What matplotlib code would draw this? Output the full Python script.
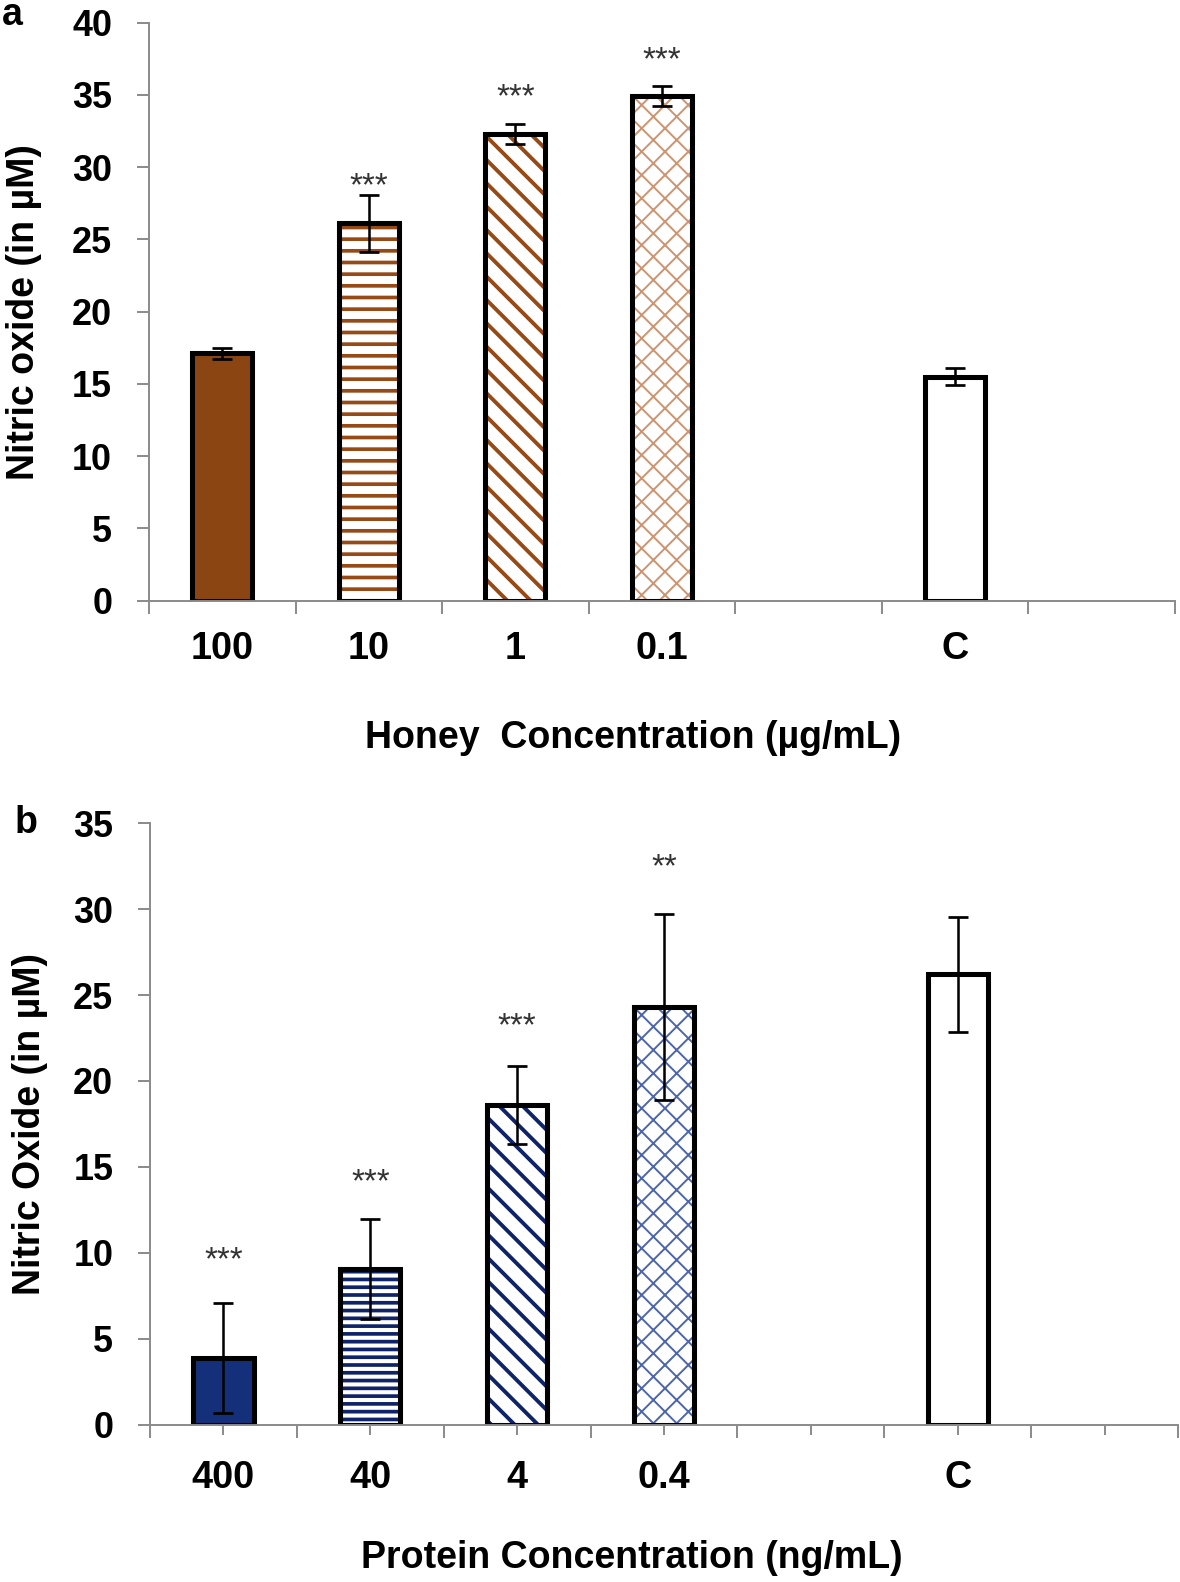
import matplotlib.pyplot as plt
from matplotlib.ticker import NullFormatter

# panel a - honey
honey_ticks = ['100', '10', '1', '0.1', '', 'C', '']
honey_mean = [17.1, 26.1, 32.3, 34.9, None, 15.5, None]
honey_err = [0.35, 2.0, 0.7, 0.7, None, 0.6, None]
honey_sig = ['', '***', '***', '***', '', '', '']
honey_sig_y = [None, 29.2, 35.3, 37.9, None, None, None]

# panel b - protein
protein_ticks = ['400', '40', '4', '0.4', '', 'C', '']
protein_mean = [3.9, 9.05, 18.6, 24.3, None, 26.2, None]
protein_err = [3.2, 2.9, 2.25, 5.4, None, 3.35, None]
protein_sig = ['***', '***', '***', '**', '', '', '']
protein_sig_y = [10.0, 14.5, 23.6, 32.85, None, None, None]

DPI = 140
W, H = 1180, 1582
GRAY = '#8a8a8a'

plt.rcParams['font.family'] = ['Liberation Sans', 'DejaVu Sans']
plt.rcParams['font.weight'] = 'bold'

fig = plt.figure(figsize=(W / DPI, H / DPI), dpi=DPI)


def draw_panel(rect, ticks, means, errs, sig, sig_y, ymax, colors, xlabel, ylabel,
               minor_len, lab_pad, xlab_xy, ylab_x, stripes):
    solid, stripe, cross = colors
    ax = fig.add_axes(rect)
    n = len(ticks)
    idx = [i for i, m in enumerate(means) if m is not None]
    # (face, hatch, hatch colour, hatch lw) for the 5 bars in order
    styles = [(solid, None, solid, 0),
              ('white', stripes, stripe, 1.9),
              ('white', '\\\\', stripe, 2.0),
              ('white', 'xx', cross, 1.0),
              ('white', None, 'white', 0)]
    for k, i in enumerate(idx):
        face, hatch, hc, hlw = styles[k]
        b = ax.bar(i + 0.5, means[i], width=0.41, color=face, edgecolor=hc,
                   linewidth=0, hatch=hatch, zorder=2)
        if hatch:
            b[0].set_hatch_linewidth(hlw)
        ax.bar(i + 0.5, means[i], width=0.41, fill=False, edgecolor='black',
               linewidth=2.6, zorder=3)
    ax.errorbar([i + 0.5 for i in idx], [means[i] for i in idx],
                yerr=[errs[i] for i in idx], fmt='none', ecolor='black',
                elinewidth=1.3, capsize=5, capthick=1.4, zorder=4)
    for i, s in enumerate(sig):
        if s:
            ax.annotate(s, (i + 0.5, sig_y[i]), xytext=(0, -8.3),
                        textcoords='offset points', ha='center', va='baseline',
                        fontsize=17, color='#333333', fontweight='normal')

    ax.set_xlim(0, n)
    ax.set_ylim(0, ymax)
    ax.set_xticks(range(n + 1))
    ax.xaxis.set_major_formatter(NullFormatter())
    ax.set_xticks([i + 0.5 for i in range(n)], labels=ticks, minor=True)
    ax.set_yticks(range(0, ymax + 1, 5))
    ax.tick_params(axis='x', which='major', length=6.7, width=1.0, color=GRAY)
    ax.tick_params(axis='x', which='minor', length=minor_len, width=1.0,
                   color=GRAY, labelsize=19.5, pad=lab_pad)
    ax.tick_params(axis='y', length=6.2, width=1.0, color=GRAY,
                   labelsize=18.5, pad=12.7)
    for side in ['top', 'right']:
        ax.spines[side].set_visible(False)
    for side in ['left', 'bottom']:
        ax.spines[side].set_color(GRAY)
        ax.spines[side].set_linewidth(1.0)
        ax.spines[side].set_zorder(5)

    ax.set_xlabel(xlabel, fontsize=19.3, fontweight='bold')
    ax.xaxis.set_label_coords(*xlab_xy)
    ax.set_ylabel(ylabel, fontsize=19.3, fontweight='bold')
    ax.yaxis.set_label_coords(ylab_x, 0.5)
    return ax


draw_panel([149 / W, 1 - 600.5 / H, 1026 / W, 577.8 / H],
           honey_ticks, honey_mean, honey_err, honey_sig, honey_sig_y, 40,
           ('#8B4513', '#964a16', '#cc9470'),
           'Honey  Concentration (µg/mL)', 'Nitric oxide (in µM)',
           0, 15.9, (0.472, -0.207), -0.104, '--')

draw_panel([150 / W, 1 - 1425 / H, 1028 / W, 602 / H],
           protein_ticks, protein_mean, protein_err, protein_sig, protein_sig_y, 35,
           ('#14307a', '#0f2468', '#4d66aa'),
           'Protein Concentration (ng/mL)', 'Nitric Oxide (in µM)',
           5.1, 13.1, (0.469, -0.191), -0.099, '---')

fig.text(2 / W, 1 - 25 / H, 'a', fontsize=19.3, fontweight='bold', va='baseline')
fig.text(15 / W, 1 - 833 / H, 'b', fontsize=19.3, fontweight='bold', va='baseline')

fig.savefig('out.png', dpi=DPI)
